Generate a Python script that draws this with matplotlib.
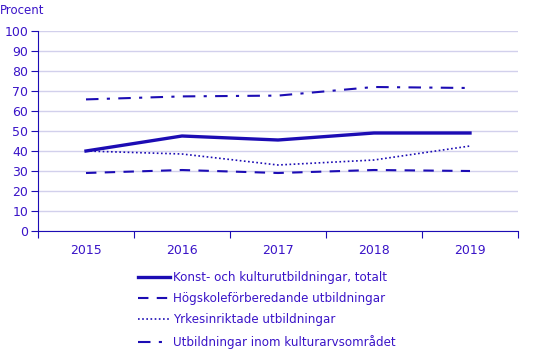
import matplotlib.pyplot as plt
import numpy as np

years = ['2015', '2016', '2017', '2018', '2019']
totalt = [40, 47.5, 45.5, 49, 49]
hogskole = [29, 30.5, 29, 30.5, 30]
yrkes = [40, 38.5, 33, 35.5, 42.5]
kulturarv = [65.8, 67.3, 67.7, 72, 71.5]

labels = ['Konst- och kulturutbildningar, totalt',
          'Högskoleförberedande utbildningar',
          'Yrkesinriktade utbildningar',
          'Utbildningar inom kulturarvsområdet']

blue = '#1c0cb4'
txt = '#3a14c8'
fs = 9

fig = plt.figure(figsize=(5.35, 3.51), dpi=100)
ax = fig.add_axes([38/535, 1-231/351, 480/535, 200/351])

x = np.arange(len(years))
l1, = ax.plot(x, totalt, color=blue, linewidth=2.4)
l2, = ax.plot(x, hogskole, color=blue, linewidth=1.5, dashes=(5, 4))
l3, = ax.plot(x, yrkes, color=blue, linewidth=1.2, dashes=(1, 1.5))
l4, = ax.plot(x, kulturarv, color=blue, linewidth=1.5, dashes=(6, 4, 1.5, 4))

ax.set_xlim(-0.5, 4.5)
ax.set_ylim(0, 100)
ax.set_yticks(np.arange(0, 101, 10))
ax.grid(axis='y', color='#d2d0ec', linewidth=1)
ax.set_axisbelow(True)
ax.set_xticks(np.arange(-0.5, 5, 1))
ax.set_xticklabels([])
ax.set_xticks(x, minor=True)
ax.set_xticklabels(years, minor=True)
ax.tick_params(axis='x', which='minor', length=0, pad=9, labelsize=fs, colors=txt)
ax.tick_params(axis='x', which='major', length=5, direction='out', color=blue)
ax.tick_params(axis='y', length=5, direction='out', color=blue, labelsize=fs, labelcolor=txt, pad=2)
for s in ['top', 'right']:
    ax.spines[s].set_visible(False)
ax.spines['left'].set_color(blue)
ax.spines['bottom'].set_color(blue)

fig.text(0.0, 1-11/351, 'Procent', fontsize=fs-0.5, color=txt, va='center')

leg = fig.legend([l1, l2, l3, l4], labels, loc='upper left',
                 bbox_to_anchor=(133/535, 1-266/351), frameon=False,
                 fontsize=8.6, labelcolor=txt, handlelength=2.7,
                 handletextpad=0.25, labelspacing=0.7, borderaxespad=0)

fig.savefig('out.png', dpi=100)
